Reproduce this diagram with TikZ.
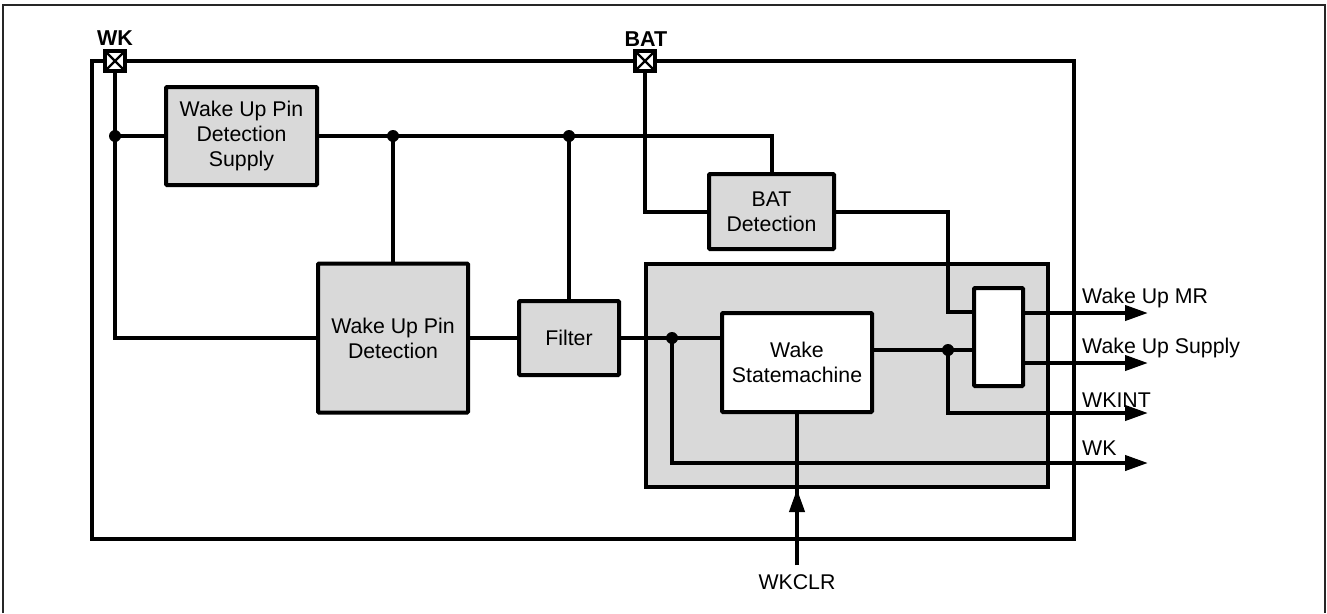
\documentclass[tikz,border=0pt]{standalone}
\usepackage{fontspec}
\setmainfont{Liberation Sans}
\usetikzlibrary{arrows.meta}
\definecolor{boxgray}{HTML}{D9D9D9}
\begin{document}
\begin{tikzpicture}[x=1pt,y=-1pt,
  txt/.style={font=\fontsize{21.3pt}{25pt}\selectfont,inner sep=0pt},
  wire/.style={line width=4pt,line cap=rect},
  blk/.style={draw,line width=4pt,fill=boxgray,inner sep=0pt,align=center,
    font=\fontsize{21.3pt}{25pt}\selectfont,rounded corners=1pt},
  wblk/.style={blk,fill=white},
  padbox/.style={draw,line width=3.5pt,fill=white,minimum size=20pt,inner sep=0pt,
    path picture={\draw[line width=2.4pt]
      (path picture bounding box.north west) -- (path picture bounding box.south east)
      (path picture bounding box.south west) -- (path picture bounding box.north east);}},
  dot/.style={fill=black},
  outarrow/.style={line width=4pt,-{Triangle[length=23pt,width=15pt]}}
]
\useasboundingbox (0,0) rectangle (1327,613);
% outer frame
\draw[line width=1.5pt,black!85] (3,613) -- (3,5) -- (1325,5) -- (1325,613);

% main box
\draw[line width=4pt] (92,61) rectangle (1074,539);

% blocks
\node[blk,minimum width=151pt,minimum height=98pt] (wups) at (241.5,136) {Wake Up Pin\\Detection\\Supply};
\node[blk,minimum width=125pt,minimum height=75pt] (batdet) at (771.5,211.5) {BAT\\Detection};
\node[blk,minimum width=150pt,minimum height=149pt] (wupd) at (393,338) {Wake Up Pin\\Detection};
\node[blk,minimum width=100pt,minimum height=74pt] (filter) at (569,338) {Filter};
\node[blk,rounded corners=0pt,minimum width=402pt,minimum height=223pt] (core) at (847,375.5) {};
\node[wblk,minimum width=150pt,minimum height=99pt] (wsm) at (797,362.5) {Wake\\Statemachine};
\node[wblk,minimum width=49pt,minimum height=98pt] (mux) at (998.5,337) {};

% pads
\node[padbox] (wkpad) at (115,61) {};
\node[padbox] (batpad) at (645,61) {};
\node[txt,font=\fontsize{21.5pt}{25pt}\selectfont\bfseries,anchor=base] (wklbl) at (115,45) {WK};
\node[txt,font=\fontsize{21.5pt}{25pt}\selectfont\bfseries,anchor=base] (batlbl) at (646,46) {BAT};

% junction coordinates
\coordinate (j1) at (wkpad.south |- wups.west);
\coordinate (j2) at (wupd.north |- wups.east);
\coordinate (j3) at (filter.north |- wups.east);
\coordinate (j4) at (672,338);
\coordinate (j5) at (948,350);
\coordinate (oMR) at (1148,313);
\coordinate (oSup) at (1148,363);
\coordinate (oInt) at (1148,413);
\coordinate (oWK) at (1148,463);
\coordinate (clr) at (797,565);
\coordinate (clrtip) at (797,489);

% wires
\draw[wire] (wkpad.south) -- (wkpad.south |- wupd.west) -- (wupd.west);
\draw[wire] (j1) -- (wups.west);
\draw[wire] (wups.east) -- (batdet.north |- wups.east) -- (batdet.north);
\draw[wire] (j2) -- (wupd.north);
\draw[wire] (j3) -- (filter.north);
\draw[wire] (batpad.south) -- (batpad.south |- batdet.west) -- (batdet.west);
\draw[wire] (batdet.east) -- (j5 |- batdet.east) -- (j5 |- 0,312) -- (mux.west |- 0,312);
\draw[wire] (wupd.east) -- (filter.west);
\draw[wire] (filter.east) -- (j4) -- (wsm.west |- j4);
\draw[wire] (wsm.east |- j5) -- (j5) -- (mux.west |- j5);
\draw[outarrow] (mux.east |- oMR) -- (oMR);
\draw[outarrow] (mux.east |- oSup) -- (oSup);
\draw[outarrow] (j5) -- (j5 |- oInt) -- (oInt);
\draw[outarrow] (j4) -- (j4 |- oWK) -- (oWK);
\draw[wire,line cap=butt] (clr) -- (wsm.south);
\draw[outarrow,line cap=butt] (clr) -- (clrtip);

% dots
\foreach \p in {j1,j2,j3,j4,j5} \fill[dot] (\p) circle (6pt);

% labels
\node[txt,anchor=base west] (lMR) at (1082,303) {Wake Up MR};
\node[txt,anchor=base west] (lSup) at (1082,353) {Wake Up Supply};
\node[txt,anchor=base west] (lInt) at (1082,407) {WKINT};
\node[txt,anchor=base west] (lWK) at (1082,455) {WK};
\node[txt,anchor=base] (lclr) at (797,589) {WKCLR};
\end{tikzpicture}
\end{document}
